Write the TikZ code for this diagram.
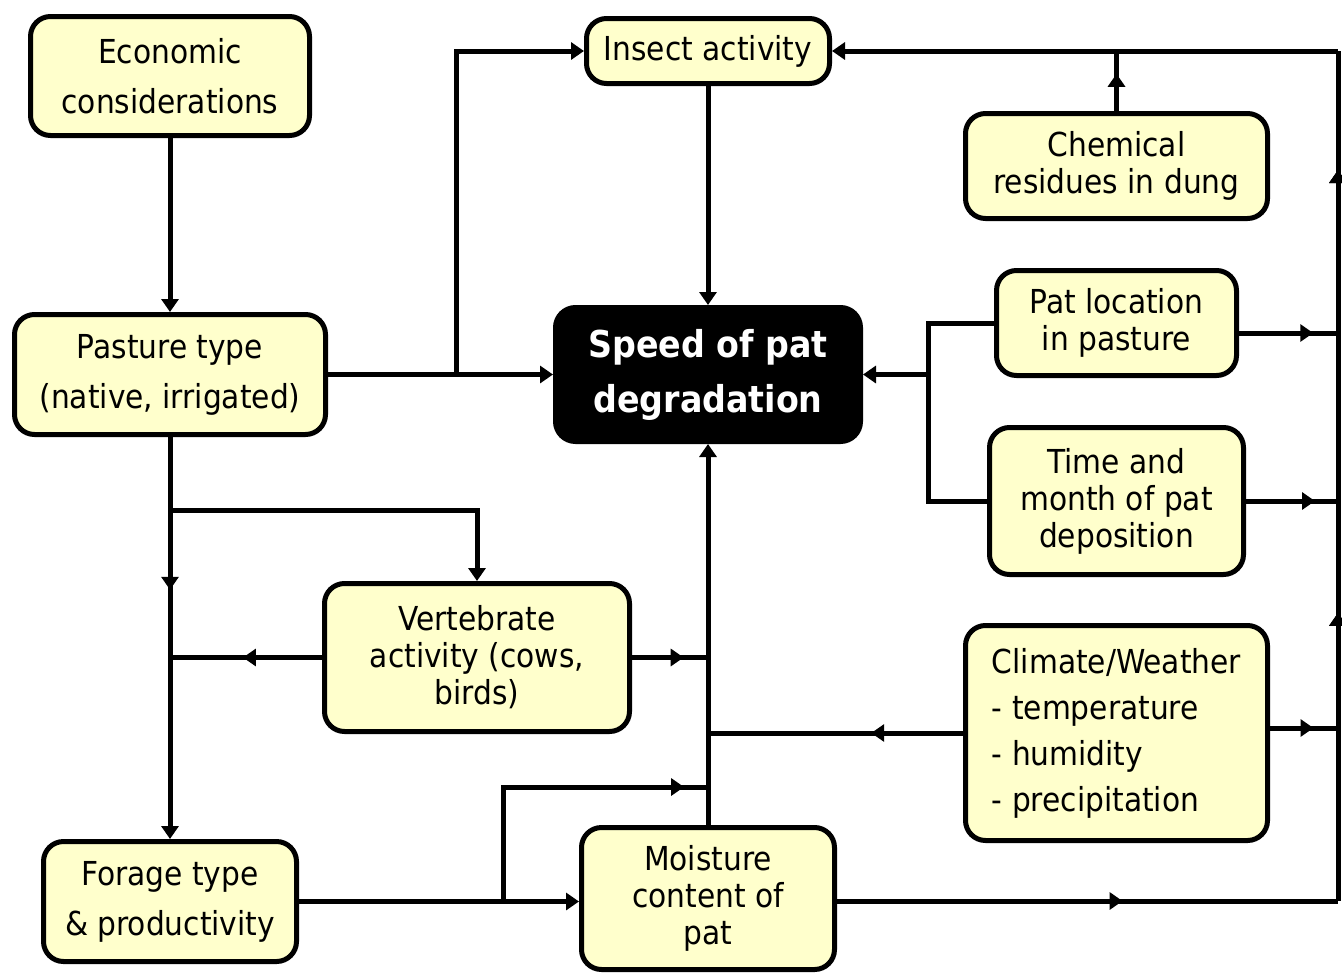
\documentclass[tikz,border=0pt]{standalone}
\usepackage{fontspec}
\setmainfont{DejaVu Sans Condensed}
\usetikzlibrary{arrows.meta,decorations.markings}
\definecolor{boxfill}{RGB}{255,255,204}
\begin{document}
\begin{tikzpicture}[x=1pt,y=-1pt,
  box/.style={draw=black, line width=5pt, fill=boxfill, rounded corners=20pt, align=center, inner sep=0pt},
  wide/.style={font=\fontsize{33}{50}\selectfont},
  tight/.style={font=\fontsize{33}{37}\selectfont},
  conn/.style={line width=5pt, -{Triangle[length=13pt,width=17pt]}},
  plain/.style={line width=5pt},
  midarrow/.style={postaction={decorate}, decoration={markings, mark=at position #1 with {\arrow{Triangle[length=13pt,width=17pt]}}}}]
\useasboundingbox (0,0) rectangle (1342,975);

\node[box,wide,minimum width=279pt,minimum height=119pt] (econ) at (170,76) {Economic\\considerations};
\node[box,tight,minimum width=243pt,minimum height=65pt] (insect) at (708,51) {Insect activity};
\node[box,tight,minimum width=302pt,minimum height=105pt] (chem) at (1116.5,166) {Chemical\\residues in dung};
\node[box,wide,minimum width=311pt,minimum height=120pt] (past) at (170,374.5) {Pasture type\\(native, irrigated)};
\node[draw=black, line width=5pt, fill=black, rounded corners=20pt, align=center, inner sep=0pt, text=white, font=\fontsize{37}{55}\selectfont\bfseries, minimum width=305pt, minimum height=134pt] (speed) at (708,374.5) {Speed of pat\\degradation};
\node[box,tight,minimum width=240pt,minimum height=105pt] (patloc) at (1116.5,323) {Pat location\\in pasture};
\node[box,tight,minimum width=254pt,minimum height=147pt] (time) at (1116.5,501) {Time and\\month of pat\\deposition};
\node[box,tight,minimum width=305pt,minimum height=148pt] (vert) at (477,657.5) {Vertebrate\\activity (cows,\\birds)};
\node[box,align=left,font=\fontsize{33}{46}\selectfont,minimum width=302pt,minimum height=215pt] (clim) at (1116.5,733) {Climate/Weather\\- temperature\\- humidity\\- precipitation};
\node[box,wide,minimum width=253pt,minimum height=120pt] (forage) at (170,901.5) {Forage type\\\& productivity};
\node[box,tight,minimum width=253pt,minimum height=142pt] (moist) at (708,898.5) {Moisture\\content of\\pat};

\coordinate (pI) at (456,374.5);
\coordinate (rb) at (1338,901);
\coordinate (rt) at (1338,51);
\coordinate (pl) at (1338,333);
\coordinate (tr) at (1338,501);
\coordinate (cr) at (1338,728);
\coordinate (bx) at (928,374.5);
\coordinate (pv) at (170,510);
\coordinate (vl) at (170,657.5);
\coordinate (vr) at (708,657.5);
\coordinate (cl) at (708,733);
\coordinate (fb) at (503,901);
\coordinate (fm) at (708,787);

\draw[conn] (econ) -- (past);
\draw[conn] (past.east) -- (speed.west);
\draw[conn] (pI) |- (insect.west);
\draw[conn] (insect) -- (speed);
\draw[conn] (moist) -- (speed);
\draw[plain, midarrow=0.57] (moist.east |- rb) -- (rb);
\draw[plain, midarrow=0.339, midarrow=0.86] (rb) -- (rt);
\draw[conn] (rt) -- (insect.east);
\draw[plain, midarrow=0.62] (chem.north) -- (chem.north |- rt);
\draw[plain, midarrow=0.75] (pl -| patloc.east) -- (pl);
\draw[plain, midarrow=0.75] (time.east) -- (tr);
\draw[plain, midarrow=0.64] (cr -| clim.east) -- (cr);
\draw[plain] (patloc.west) -| (bx) |- (time.west);
\draw[conn] (bx) -- (speed.east);
\draw[conn, midarrow=0.38] (past.south) -- (forage.north);
\draw[conn] (pv) -| (vert.north);
\draw[plain, midarrow=0.52] (vert.west) -- (vl);
\draw[plain, midarrow=0.68] (vert.east) -- (vr);
\draw[plain, midarrow=0.36] (clim.west) -- (cl);
\draw[conn] (forage.east) -- (moist.west |- forage.east);
\draw[plain, midarrow=0.925] (fb) |- (fm);
\end{tikzpicture}
\end{document}
